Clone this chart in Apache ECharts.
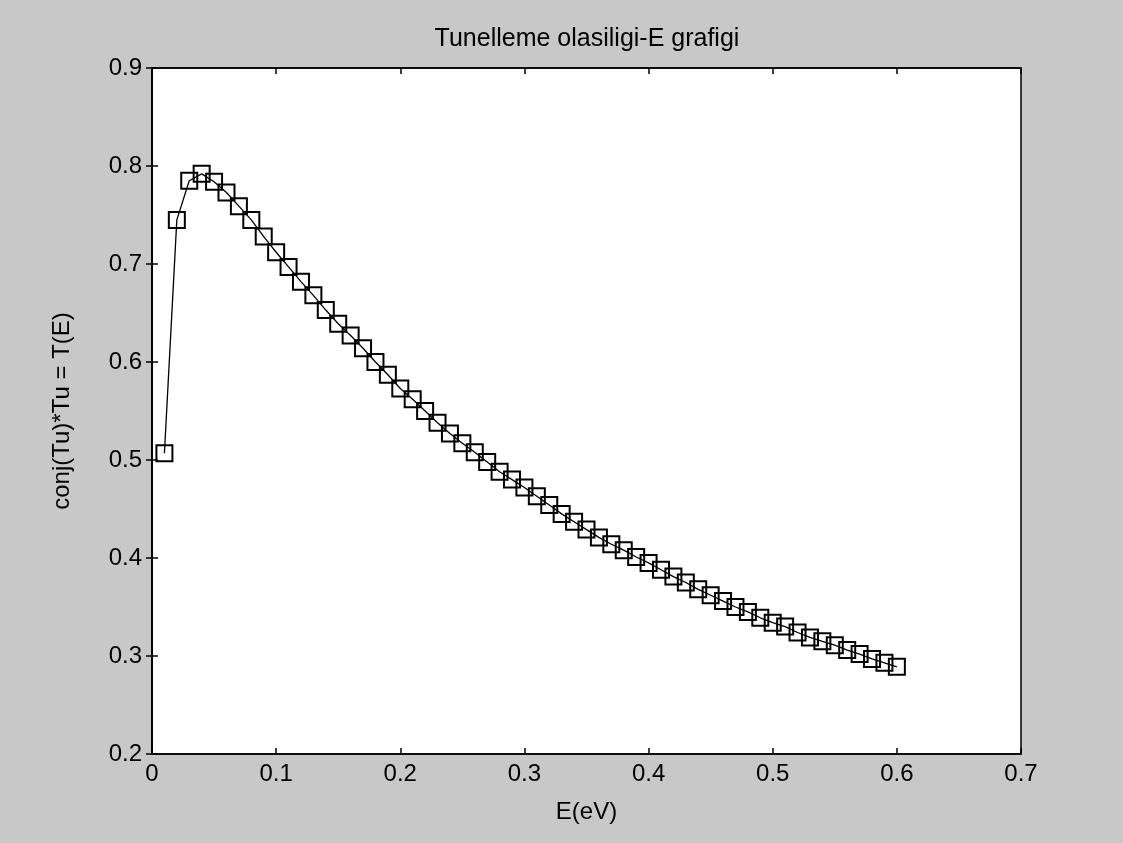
<!DOCTYPE html>
<html>
<head>
<meta charset="utf-8">
<title>Tunelleme olasiligi-E grafigi</title>
<script src="https://cdn.jsdelivr.net/npm/echarts@6/dist/echarts.min.js"></script>
<style>
    html, body { margin: 0; padding: 0; background: #c8c8c8; }
    #chart01 { width: 1123px; height: 843px; }
</style>
</head>
<body>
<div id="chart01"></div>
<script>
// enerji degerleri (eV)
var energy = [0.01,0.02,0.03,0.04,0.05,0.06,0.07,0.08,0.09,0.10,
    0.11,0.12,0.13,0.14,0.15,0.16,0.17,0.18,0.19,0.20,
    0.21,0.22,0.23,0.24,0.25,0.26,0.27,0.28,0.29,0.30,
    0.31,0.32,0.33,0.34,0.35,0.36,0.37,0.38,0.39,0.40,
    0.41,0.42,0.43,0.44,0.45,0.46,0.47,0.48,0.49,0.50,
    0.51,0.52,0.53,0.54,0.55,0.56,0.57,0.58,0.59,0.60];
// T(E) = conj(Tu)*Tu
var transmission = [0.507,0.745,0.785,0.792,0.784,0.773,0.759,0.745,0.728,0.712,
    0.697,0.682,0.668,0.653,0.639,0.627,0.614,0.600,0.587,0.573,
    0.562,0.550,0.538,0.527,0.517,0.508,0.498,0.488,0.480,0.472,
    0.463,0.454,0.445,0.437,0.429,0.421,0.414,0.408,0.401,0.395,
    0.388,0.381,0.375,0.368,0.362,0.356,0.350,0.345,0.339,0.334,
    0.330,0.324,0.319,0.315,0.311,0.306,0.302,0.297,0.293,0.289];
var xTicks = [0, 0.7, 0.1];   // min, max, step
var yTicks = [0.2, 0.9, 0.1];

var font = "'Liberation Sans', Arial, sans-serif";

var points = [];
for (var i = 0; i < energy.length; i++) {
    points.push([energy[i], transmission[i]]);
}

function fmt(v) {
    return v === 0 ? '0' : v.toFixed(1);
}

var myChart = echarts.init(document.getElementById('chart01'));
var axisLine = { show: true, lineStyle: { color: '#000', width: 1.5 } };
var tick = { show: true, inside: true, length: 6, lineStyle: { color: '#000', width: 1.5 } };
var option = {
    backgroundColor: '#c8c8c8',
    animation: false,
    title: {
        text: 'Tunelleme olasiligi-E grafigi',
        left: 582,
        top: 22,
        textAlign: 'center',
        textStyle: { fontFamily: font, fontSize: 25, fontWeight: 'normal', color: '#000' }
    },
    grid: {
        left: 152, right: 102, top: 68, bottom: 89,
        show: true,
        backgroundColor: '#fff',
        borderColor: '#000',
        borderWidth: 1.5
    },
    xAxis: [{
        type: 'value',
        min: xTicks[0], max: xTicks[1], interval: xTicks[2],
        name: 'E(eV)',
        nameLocation: 'middle',
        nameGap: 46,
        nameTextStyle: { fontFamily: font, fontSize: 24, color: '#000' },
        axisLine: axisLine,
        axisTick: tick,
        splitLine: { show: false },
        axisLabel: { formatter: fmt, margin: 8, fontFamily: font, fontSize: 24, color: '#000' }
    }, {
        type: 'value', position: 'top',
        min: xTicks[0], max: xTicks[1], interval: xTicks[2],
        axisLine: axisLine,
        axisTick: tick,
        splitLine: { show: false },
        axisLabel: { show: false }
    }],
    yAxis: [{
        type: 'value',
        min: yTicks[0], max: yTicks[1], interval: yTicks[2],
        name: 'conj(Tu)*Tu = T(E)',
        nameLocation: 'middle',
        nameGap: 78,
        nameTextStyle: { fontFamily: font, fontSize: 24, color: '#000' },
        axisLine: axisLine,
        axisTick: tick,
        splitLine: { show: false },
        axisLabel: { formatter: fmt, margin: 10, fontFamily: font, fontSize: 24, color: '#000' }
    }, {
        type: 'value', position: 'right',
        min: yTicks[0], max: yTicks[1], interval: yTicks[2],
        axisLine: axisLine,
        axisTick: tick,
        splitLine: { show: false },
        axisLabel: { show: false }
    }],
    series: [{
        type: 'line',
        data: points,
        symbol: 'rect',
        symbolSize: 16,
        showAllSymbol: true,
        lineStyle: { color: '#000', width: 1.3 },
        itemStyle: { color: 'rgba(0,0,0,0)', borderColor: '#000', borderWidth: 2 }
    }]
};
myChart.setOption(option);
</script>
</body>
</html>
